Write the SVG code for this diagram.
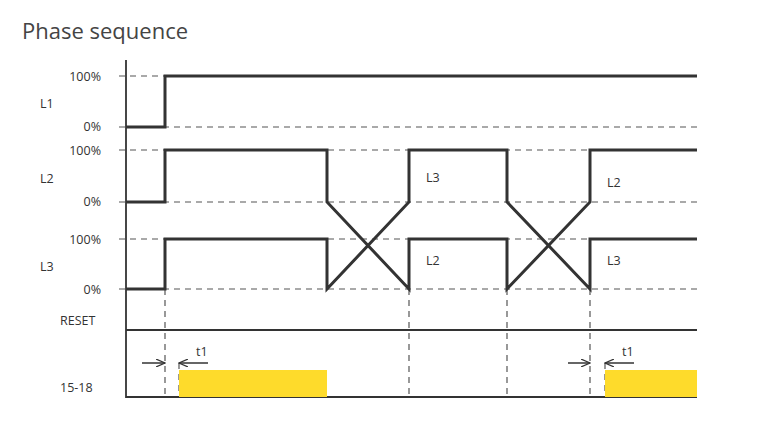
<svg xmlns="http://www.w3.org/2000/svg" width="763" height="432" viewBox="0 0 763 432">
<style>
text{font-family:"Open Sans","Liberation Sans",sans-serif;fill:#333}
.lb{font-size:12.5px}
.d{stroke:#555;stroke-width:1.2;stroke-dasharray:6,5;fill:none}
.s{stroke:#333;stroke-width:3;fill:none;stroke-linejoin:miter}
.a{stroke:#333;stroke-width:1.5;fill:none}
</style>
<defs><marker id="ar" markerWidth="10" markerHeight="8" refX="9" refY="4" orient="auto" markerUnits="userSpaceOnUse"><path d="M0,0 L9,4 L0,8" fill="none" stroke="#333" stroke-width="1.2"/></marker></defs>
<rect width="763" height="432" fill="#fff"/>
<text x="22" y="39" font-size="22" style="fill:#444">Phase sequence</text>
<g id="labels" class="lb">
<text x="101" y="81" text-anchor="end" class="lb">100%</text>
<text x="101" y="131" text-anchor="end" class="lb">0%</text>
<text x="101" y="155" text-anchor="end" class="lb">100%</text>
<text x="101" y="206" text-anchor="end" class="lb">0%</text>
<text x="101" y="244" text-anchor="end" class="lb">100%</text>
<text x="101" y="294" text-anchor="end" class="lb">0%</text>
<text x="40" y="108" class="lb">L1</text>
<text x="40" y="183" class="lb">L2</text>
<text x="40" y="271" class="lb">L3</text>
<text x="60" y="325" class="lb">RESET</text>
<text x="60" y="392" class="lb">15-18</text>
<text x="426" y="182" class="lb">L3</text>
<text x="426" y="265" class="lb">L2</text>
<text x="607" y="187" class="lb">L2</text>
<text x="607" y="265" class="lb">L3</text>
<text x="196" y="356" class="lb">t1</text>
<text x="622" y="356" class="lb">t1</text>
</g>
<g id="grid">
<path class="d" d="M119,76H697M119,127H697M119,150H697M119,202H697M119,239H697M119,289H697"/>
<path class="d" d="M165,289V397M409,289V397M507,289V397M590,289V397M179,363V397M605,363V397"/>
<path d="M126,60V397H697M126,330H697" stroke="#333" stroke-width="1.8" fill="none"/>
</g>
<g id="yellow" fill="#fedb2b">
<rect x="179" y="370" width="148" height="27"/>
<rect x="605" y="370" width="92" height="27"/>
</g>
<g id="traces">
<path class="s" d="M126,127H165V76H697"/>
<path class="s" d="M126,202H165V150H327V202L409,289V239H507V289L590,202V150H697"/>
<path class="s" d="M126,289H165V239H327V289L409,202V150H507V202L590,289V239H697"/>
</g>
<g id="connectors">
<path class="a" d="M142,363H165" marker-end="url(#ar)"/>
<path class="a" d="M208,363H179" marker-end="url(#ar)"/>
<path class="a" d="M568,363H590" marker-end="url(#ar)"/>
<path class="a" d="M634,363H605" marker-end="url(#ar)"/>
</g>
</svg>
